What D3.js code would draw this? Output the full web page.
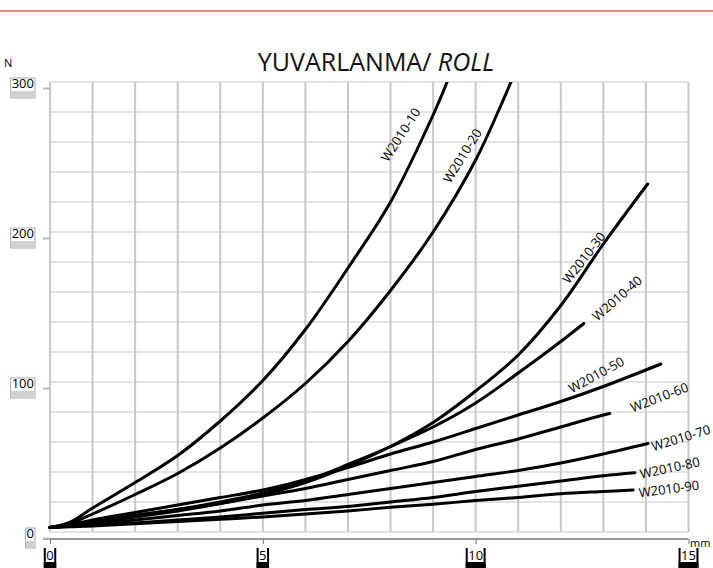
<!DOCTYPE html>
<html>
<head>
<meta charset="utf-8">
<script src="https://cdn.jsdelivr.net/npm/d3@7"></script>
<style>
  body { margin: 0; background: #fff; }
  svg text { font-family: "Open Sans", Lato, sans-serif; }
</style>
</head>
<body>
<svg class="canvas" width="713" height="568"></svg>
<script>
// series: [mm, N] pairs
const w10 = [[0,3],[0.5,7],[1,16],[2,33],[3,51],[4,74],[5,101],[6,135],[7,176],[8,220],[9,278],[9.33,300]];
const w20 = [[0,3],[0.5,6],[1,12],[2,25],[3,39],[4,56],[5,76],[6,99],[7,127],[8,161],[9,200],[10,248],[10.57,283],[10.83,300]];
const w30 = [[0,3],[0.5,4],[1,6],[2,10],[3,14],[4,19],[5,25],[6,33],[7,44],[8,57],[9,73],[10,94],[11,118],[12,151],[13,192],[14.04,232]];
const w40 = [[0,3],[0.5,5],[1,7],[2,11],[3,15],[4,20],[5,26],[6,34],[7,45],[8,57],[9,70],[10,86],[11,106],[12,127],[12.54,139]];
const w50 = [[0,3],[0.5,5],[1,8],[2,13],[3,18],[4,23],[5,28],[6,35],[7,43],[8,52],[9,60],[10,69],[11,78],[12,87],[13,97],[14.35,112]];
const w60 = [[0,3],[0.5,5],[1,7],[2,11],[3,15],[4,19],[5,24],[6,29],[7,35],[8,41],[9,47],[10,55],[11,62],[12,70],[13,78],[13.15,79]];
const w70 = [[0,3],[0.5,4],[1,5],[2,8],[3,11],[4,14],[5,18],[6,21],[7,25],[8,29],[9,33],[10,37],[11,41],[12,46],[13,52],[14.05,59]];
const w80 = [[0,3],[0.5,4],[1,4.5],[2,6],[3,8],[4,10],[5,12.5],[6,15],[7,17],[8,20],[9,23],[10,27],[11,30.5],[12,34],[13,37.5],[13.74,39.5]];
const w90 = [[0,3],[0.5,3.5],[1,4],[2,5.5],[3,7],[4,8.5],[5,10],[6,12],[7,14],[8,16.5],[9,18.5],[10,21],[11,23],[12,25.5],[13,27],[13.7,28]];

const seriesNames = ['W2010-10','W2010-20','W2010-30','W2010-40','W2010-50','W2010-60','W2010-70','W2010-80','W2010-90'];
const seriesData = [w10, w20, w30, w40, w50, w60, w70, w80, w90];

// label anchor (mm, N) and rotation for each curve name
const labelAt = [[8.23,265],[9.68,251],[12.54,183],[13.32,156],[12.83,105],[14.31,90],[14.82,63],[14.56,43],[14.54,29]];
const labelRot = [-57,-58,-52,-41,-28.5,-20.7,-17,-12,-7.5];

const xTicks = [0, 5, 10, 15];
const yTicks = [0, 100, 200, 300];
const xGrid = d3.range(0, 16, 1);
const yGrid = d3.range(0, 301, 20);

const canvas = d3.select('.canvas');

var x = d3.scaleLinear().domain([0, 15]).range([50, 688.5]);
var y = d3.scaleLinear().domain([0, 300]).range([532, 82]);
// value axis is drawn a few px lower than the grid in the original
var yAxisScale = d3.scaleLinear().domain([0, 300]).range([538, 88]);

// top rule
canvas.append('line')
    .attr('x1', 0).attr('x2', 713)
    .attr('y1', 11).attr('y2', 11)
    .attr('stroke', '#ec8a6e')
    .attr('stroke-width', 2);

// title
var title = canvas.append('text')
    .attr('x', 376).attr('y', 71)
    .attr('text-anchor', 'middle')
    .style('font-size', '25px')
    .attr('fill', '#111');
title.append('tspan').text('YUVARLANMA/ ');
title.append('tspan').style('font-style', 'italic').text('ROLL');

canvas.append('text')
    .attr('x', 4).attr('y', 67)
    .style('font-size', '11px')
    .text('N');

// grid
const gGrid = canvas.append('g');

gGrid.selectAll('.hgrid')
    .data(yGrid)
    .enter()
    .append('line')
    .attr('class', 'hgrid')
    .attr('x1', x(0)).attr('x2', x(15))
    .attr('y1', d => y(d)).attr('y2', d => y(d))
    .attr('stroke', '#e4e4e4')
    .attr('stroke-width', 2);

gGrid.selectAll('.vgrid')
    .data(xGrid)
    .enter()
    .append('line')
    .attr('class', 'vgrid')
    .attr('x1', d => x(d)).attr('x2', d => x(d))
    .attr('y1', y(300)).attr('y2', y(0))
    .attr('stroke', '#c8c8c8')
    .attr('stroke-width', 2);

// x axis
var xAxis = canvas.append('g')
    .attr('transform', 'translate(0,539)')
    .call(d3.axisBottom(x).tickValues(xTicks).tickSize(5).tickFormat(''));
xAxis.select('.domain').attr('stroke', '#999').attr('stroke-width', 2).attr('d', 'M43,0H' + x(15));
xAxis.selectAll('.tick line').attr('stroke', '#777');

var xLab = canvas.selectAll('.xlab')
    .data(xTicks)
    .enter()
    .append('g')
    .attr('class', 'xlab')
    .attr('transform', d => 'translate(' + x(d) + ',548)');

xLab.append('text')
    .attr('text-anchor', 'middle')
    .attr('y', 12)
    .style('font-size', '13px')
    .text(d => d);

xLab.each(function(d) {
    var g = d3.select(this);
    var w = g.select('text').node().getComputedTextLength() + 3;
    g.append('rect').attr('x', -w / 2 - 1).attr('y', 0).attr('width', 2).attr('height', 20).attr('fill', '#000');
    g.append('rect').attr('x', w / 2 - 1).attr('y', 0).attr('width', 2).attr('height', 20).attr('fill', '#000');
    g.append('rect').attr('x', -w / 2 - 1).attr('y', 14).attr('width', w + 2).attr('height', 6).attr('fill', '#000');
});

canvas.append('text')
    .attr('x', 690).attr('y', 547)
    .style('font-size', '11px')
    .text('mm');

// y axis (labels in little boxes)
var yAxis = canvas.append('g')
    .attr('transform', 'translate(50,0)')
    .call(d3.axisLeft(yAxisScale).tickValues(yTicks).tickSize(7).tickFormat(''));
yAxis.select('.domain').remove();
yAxis.selectAll('.tick line').attr('stroke', '#bbb').attr('stroke-width', 2);

var yLab = canvas.selectAll('.ylab')
    .data(yTicks)
    .enter()
    .append('g')
    .attr('class', 'ylab')
    .attr('transform', d => 'translate(35,' + yAxisScale(d) + ')');

yLab.each(function(d) {
    var g = d3.select(this);
    var t = g.append('text')
        .attr('text-anchor', 'end')
        .attr('x', -1).attr('y', 0)
        .style('font-size', '13px')
        .text(d);
    var w = t.node().getComputedTextLength() + 2;
    g.insert('rect', 'text').attr('x', -w).attr('y', -10).attr('width', w).attr('height', 20)
        .attr('fill', '#fff').attr('stroke', '#aaa').attr('stroke-width', 1);
    g.insert('rect', 'text').attr('x', -w + 0.5).attr('y', 3).attr('width', w - 1).attr('height', 6.5)
        .attr('fill', '#d0d0d0');
});

// curves
canvas.append('clipPath').attr('id', 'plotclip')
    .append('rect').attr('x', x(0) - 2).attr('y', y(300)).attr('width', x(15) - x(0) + 10).attr('height', y(0) - y(300) + 4);

var line = d3.line()
    .x(d => x(d[0]))
    .y(d => y(d[1]))
    .curve(d3.curveCatmullRom.alpha(0.5));

canvas.append('g')
    .attr('clip-path', 'url(#plotclip)')
    .selectAll('.curve')
    .data(seriesData)
    .enter()
    .append('path')
    .attr('class', 'curve')
    .attr('d', line)
    .attr('fill', 'none')
    .attr('stroke', '#000')
    .attr('stroke-width', 3)
    .attr('stroke-linecap', 'round');

// curve names
canvas.selectAll('.clabel')
    .data(seriesNames)
    .enter()
    .append('text')
    .attr('class', 'clabel')
    .attr('text-anchor', 'middle')
    .attr('dominant-baseline', 'central')
    .style('font-size', '13px')
    .attr('transform', (d, i) => 'translate(' + x(labelAt[i][0]) + ',' + y(labelAt[i][1]) + ') rotate(' + labelRot[i] + ')')
    .text(d => d);
</script>
</body>
</html>
